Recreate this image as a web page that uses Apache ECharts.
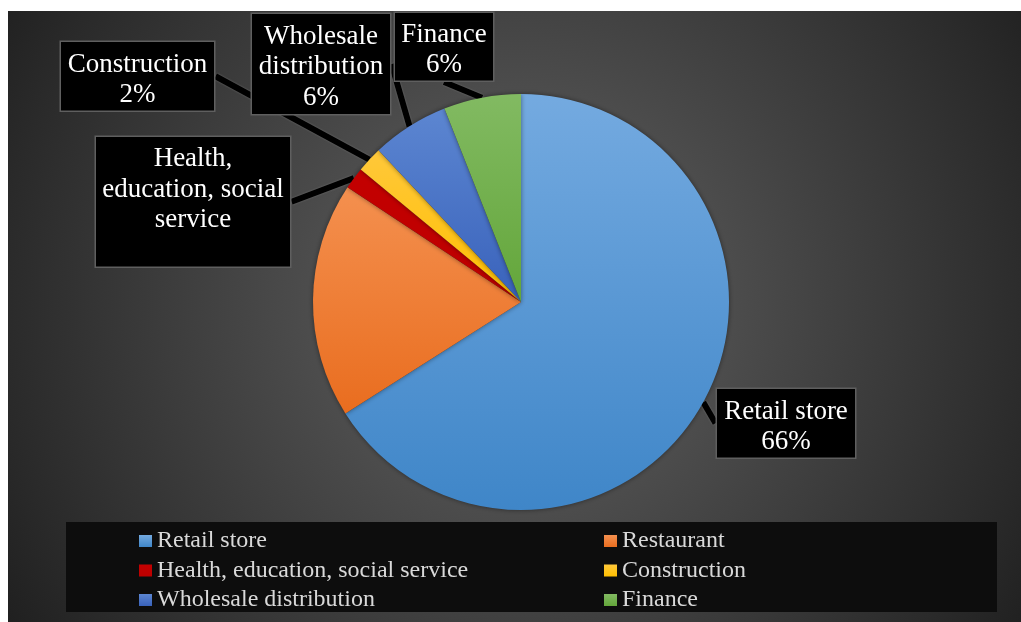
<!DOCTYPE html>
<html>
<head>
<meta charset="utf-8">
<script src="https://cdn.jsdelivr.net/npm/echarts@6/dist/echarts.min.js"></script>
<style>
  html, body { margin: 0; padding: 0; background: #ffffff; }
  #chart { position: absolute; left: 8px; top: 11px; width: 1013px; height: 611px; }
</style>
</head>
<body>
<div id="chart"></div>
<script>
// Share of businesses by sector (percent)
const categories = ['Retail store', 'Restaurant', 'Health, education, social service', 'Construction', 'Wholesale distribution', 'Finance'];
const shares = [66, 18.3, 1.7, 2, 6, 6];
// Callout wording (wrapped) and whether the callout also states the share
const calloutName = ['Retail store', null, 'Health,\neducation, social\nservice', 'Construction', 'Wholesale\ndistribution', 'Finance'];
const calloutShowsValue = [true, false, false, true, true, true];
// Legend columns
const legendLeft = ['Retail store', 'Health, education, social service', 'Wholesale distribution'];
const legendRight = ['Restaurant', 'Construction', 'Finance'];

// Office-style slice fills, light at the top, darker at the bottom
const sliceFills = [
  ['#74aae0', '#3f86c8'],
  ['#f4904f', '#e96d1f'],
  ['#c30000', '#bd0000'],
  ['#ffc83a', '#ffbf00'],
  ['#5c86d1', '#3962bb'],
  ['#82ba62', '#63a63a']
];
function grad(pair) {
  return { type: 'linear', x: 0, y: 0, x2: 0, y2: 1,
    colorStops: [{ offset: 0, color: pair[0] }, { offset: 1, color: pair[1] }] };
}

// Callout box placement: centre x, top y, width, top / bottom padding
const calloutBox = {
  0: { x: 778, top: 378, w: 138, pt: 7.5, pb: 0 },
  2: { x: 185, top: 126, w: 194, pt: 7, pb: 31 },
  3: { x: 129.5, top: 31, w: 153, pt: 7.5, pb: 0 },
  4: { x: 313, top: 3, w: 138, pt: 7.5, pb: 1 },
  5: { x: 436, top: 2, w: 98, pt: 6.5, pb: 0 }
};

const chart = echarts.init(document.getElementById('chart'));

const data = categories.map((name, i) => {
  const box = calloutBox[i];
  const item = { name: name, value: shares[i], itemStyle: { color: grad(sliceFills[i]) } };
  if (!box) {
    item.label = { show: false };
    item.labelLine = { show: false };
  } else {
    item.label = { width: box.w, padding: [box.pt, 0, box.pb, 0] };
  }
  return item;
});

const legendText = { color: '#d9d9d9', fontFamily: 'Liberation Serif', fontSize: 24, lineHeight: 24 };
const legendCommon = {
  orient: 'vertical', top: 513, padding: 5, icon: 'rect',
  itemWidth: 13, itemHeight: 12, itemGap: 5.5, selectedMode: false, textStyle: legendText
};

chart.setOption({
  backgroundColor: {
    type: 'radial', x: 0.506, y: 0.476, r: 1.0,
    colorStops: [
      { offset: 0, color: '#575757' },
      { offset: 0.35, color: '#4c4c4c' },
      { offset: 0.6, color: '#3b3b3b' },
      { offset: 0.85, color: '#2a2a2a' },
      { offset: 1, color: '#1f1f1f' }
    ]
  },
  animation: false,
  graphic: [{
    type: 'rect', left: 58, top: 511, z: -1,
    shape: { width: 931, height: 90 },
    style: { fill: '#0d0d0d' }
  }],
  legend: [
    Object.assign({ data: legendLeft, left: 126 }, legendCommon),
    Object.assign({ data: legendRight, left: 591 }, legendCommon)
  ],
  series: [{
    type: 'pie',
    center: [513, 291],
    radius: 208,
    startAngle: 90,
    clockwise: true,
    avoidLabelOverlap: false,
    data: data,
    itemStyle: { borderWidth: 0, shadowBlur: 5, shadowColor: 'rgba(0,0,0,0.45)' },
    label: {
      show: true,
      position: 'outside',
      formatter: p => calloutName[p.dataIndex] + (calloutShowsValue[p.dataIndex] ? '\n' + p.value + '%' : ''),
      color: '#ffffff',
      fontFamily: 'Liberation Serif',
      fontSize: 27,
      lineHeight: 30.5,
      align: 'center',
      backgroundColor: '#000000',
      borderColor: '#5f5f5f',
      borderWidth: 1.5
    },
    labelLine: {
      show: true,
      length: 12,
      length2: 0,
      smooth: false,
      lineStyle: { color: '#000000', width: 6, shadowBlur: 2, shadowColor: 'rgba(120,120,120,0.9)' }
    },
    labelLayout: function (params) {
      const box = calloutBox[params.dataIndex];
      if (!box) return {};
      return { x: box.x, y: box.top, align: 'center', verticalAlign: 'top' };
    },
    emphasis: { disabled: true }
  }]
});
</script>
</body>
</html>
